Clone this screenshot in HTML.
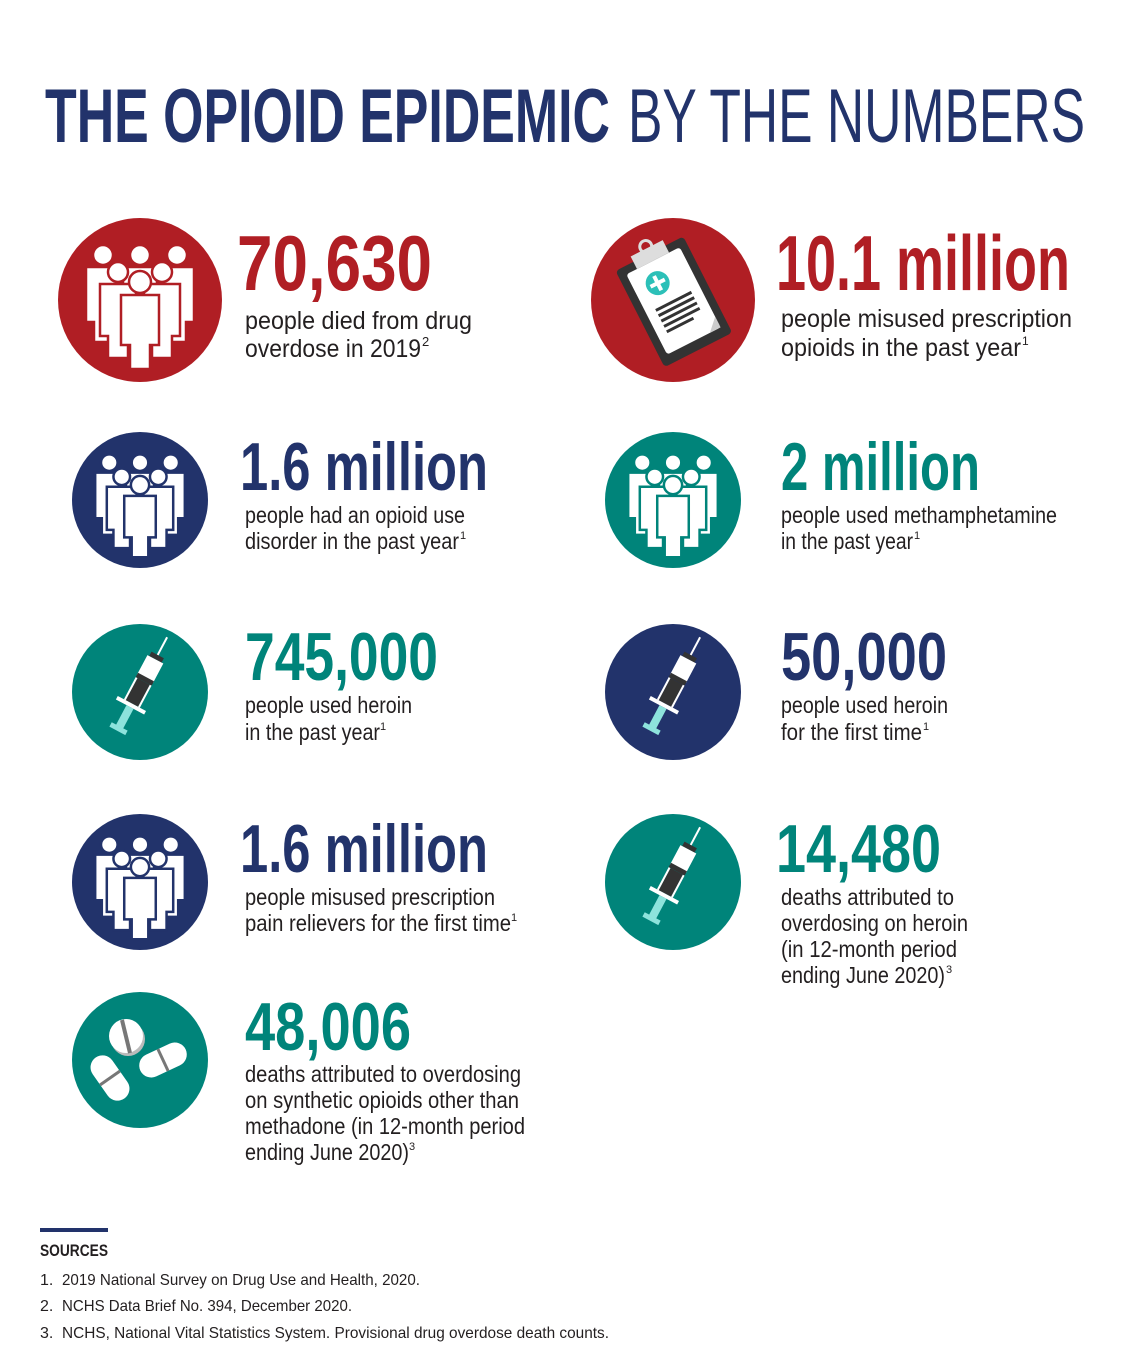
<!DOCTYPE html>
<html><head><meta charset="utf-8"><style>
html,body{margin:0;padding:0;background:#fff}
svg{display:block}
text{font-family:"Liberation Sans Narrow","Liberation Sans",sans-serif}
</style></head><body>
<svg width="1138" height="1364" viewBox="0 0 1138 1364" xmlns="http://www.w3.org/2000/svg">
<defs>
<g id="people">
  <g>
    <circle cx="-37" cy="-45" r="9" fill="#fff"/><rect x="-54" y="-33" width="34" height="52" rx="4" fill="#fff"/>
    <circle cx="37" cy="-45" r="9" fill="#fff"/><rect x="20" y="-33" width="34" height="52" rx="4" fill="#fff"/>
    <circle cx="0" cy="-45" r="9" fill="#fff"/><rect x="-17" y="-33" width="34" height="40" rx="4" fill="#fff"/>
  </g>
</g>
<g id="syringe">
  <line x1="0" y1="-62" x2="0" y2="-40" stroke="#fff" stroke-width="2"/>
  <rect x="-7" y="-42" width="14" height="5" fill="#333"/>
  <rect x="-9" y="-37" width="18" height="22" fill="#fff"/>
  <rect x="-9" y="-17" width="18" height="5" fill="#333"/>
  <rect x="-7" y="-12" width="14" height="25" fill="#333"/>
  <rect x="-9" y="-12" width="2" height="25" fill="#fff"/>
  <rect x="7" y="-12" width="2" height="25" fill="#fff"/>
  <rect x="-16" y="13" width="32" height="4" fill="#fff"/>
  <rect x="-4" y="17" width="8" height="24" fill="#8de3dc"/>
  <rect x="-9" y="39" width="18" height="5" fill="#8de3dc"/>
</g>
</defs>

<!-- title -->
<text x="45" y="142" font-size="76" font-weight="bold" fill="#22336b" textLength="565" lengthAdjust="spacingAndGlyphs">THE OPIOID EPIDEMIC</text>
<text x="628" y="142" font-size="76" fill="#22336b" textLength="457" lengthAdjust="spacingAndGlyphs">BY THE NUMBERS</text>

<!-- icon 1: red people -->
<g transform="translate(140,300)">
  <circle r="82" fill="#b01e24"/>
  <g fill="#fff" stroke="#b01e24" stroke-width="2.5">
    <circle cx="-37" cy="-45" r="10"/><path d="M-54,-33h34v55h-8v20h-18v-20h-8z"/>
    <circle cx="37" cy="-45" r="10"/><path d="M20,-33h34v55h-8v20h-18v-20h-8z"/>
    <circle cx="0" cy="-45" r="10"/><path d="M-17,-33h34v40h-34z"/>
    <circle cx="-22" cy="-28" r="10"/><path d="M-40,-16h36v52h-8v22h-20v-22h-8z"/>
    <circle cx="22" cy="-28" r="10"/><path d="M4,-16h36v52h-8v22h-20v-22h-8z"/>
    <circle cx="0" cy="-18" r="11"/><path d="M-19,-5h38v50h-9v24h-20v-24h-9z"/>
  </g>
</g>
<!-- icon 2: clipboard -->
<g transform="translate(673,300)">
  <circle r="82" fill="#b01e24"/>
  <g transform="rotate(-27)">
    <rect x="-38" y="-52" width="76" height="108" rx="4" fill="#333"/>
    <rect x="-30" y="-44" width="60" height="90" rx="3" fill="#fff"/>
    <path d="M18,46 L30,34 L30,46 Z" fill="#ccc"/>
    <rect x="-18" y="-58" width="36" height="14" fill="#ddd"/>
    <circle cx="0" cy="-60" r="6" fill="none" stroke="#ddd" stroke-width="3"/>
    <circle cx="-6" cy="-22" r="12" fill="#2cc0b8"/>
    <rect x="-14" y="-24" width="16" height="4" fill="#fff"/><rect x="-8" y="-30" width="4" height="16" fill="#fff"/>
    <g fill="#333"><rect x="-20" y="0" width="40" height="3"/><rect x="-20" y="6" width="40" height="3"/><rect x="-20" y="12" width="40" height="3"/><rect x="-20" y="18" width="40" height="3"/><rect x="-20" y="24" width="30" height="3"/></g>
  </g>
</g>

<!-- people icons smaller -->
<g transform="translate(140,500)">
  <circle r="68" fill="#22336b"/>
  <g transform="scale(0.83)" fill="#fff" stroke="#22336b" stroke-width="3">
    <circle cx="-37" cy="-45" r="10"/><path d="M-54,-33h34v55h-8v20h-18v-20h-8z"/>
    <circle cx="37" cy="-45" r="10"/><path d="M20,-33h34v55h-8v20h-18v-20h-8z"/>
    <circle cx="0" cy="-45" r="10"/><path d="M-17,-33h34v40h-34z"/>
    <circle cx="-22" cy="-28" r="10"/><path d="M-40,-16h36v52h-8v22h-20v-22h-8z"/>
    <circle cx="22" cy="-28" r="10"/><path d="M4,-16h36v52h-8v22h-20v-22h-8z"/>
    <circle cx="0" cy="-18" r="11"/><path d="M-19,-5h38v50h-9v24h-20v-24h-9z"/>
  </g>
</g>
<g transform="translate(673,500)">
  <circle r="68" fill="#00847a"/>
  <g transform="scale(0.83)" fill="#fff" stroke="#00847a" stroke-width="3">
    <circle cx="-37" cy="-45" r="10"/><path d="M-54,-33h34v55h-8v20h-18v-20h-8z"/>
    <circle cx="37" cy="-45" r="10"/><path d="M20,-33h34v55h-8v20h-18v-20h-8z"/>
    <circle cx="0" cy="-45" r="10"/><path d="M-17,-33h34v40h-34z"/>
    <circle cx="-22" cy="-28" r="10"/><path d="M-40,-16h36v52h-8v22h-20v-22h-8z"/>
    <circle cx="22" cy="-28" r="10"/><path d="M4,-16h36v52h-8v22h-20v-22h-8z"/>
    <circle cx="0" cy="-18" r="11"/><path d="M-19,-5h38v50h-9v24h-20v-24h-9z"/>
  </g>
</g>
<g transform="translate(140,882)">
  <circle r="68" fill="#22336b"/>
  <g transform="scale(0.83)" fill="#fff" stroke="#22336b" stroke-width="3">
    <circle cx="-37" cy="-45" r="10"/><path d="M-54,-33h34v55h-8v20h-18v-20h-8z"/>
    <circle cx="37" cy="-45" r="10"/><path d="M20,-33h34v55h-8v20h-18v-20h-8z"/>
    <circle cx="0" cy="-45" r="10"/><path d="M-17,-33h34v40h-34z"/>
    <circle cx="-22" cy="-28" r="10"/><path d="M-40,-16h36v52h-8v22h-20v-22h-8z"/>
    <circle cx="22" cy="-28" r="10"/><path d="M4,-16h36v52h-8v22h-20v-22h-8z"/>
    <circle cx="0" cy="-18" r="11"/><path d="M-19,-5h38v50h-9v24h-20v-24h-9z"/>
  </g>
</g>

<!-- syringes -->
<g transform="translate(140,692)">
  <circle r="68" fill="#00847a"/><g transform="translate(-2,0) rotate(28)"><use href="#syringe"/></g>
</g>
<g transform="translate(673,692)">
  <circle r="68" fill="#22336b"/><g transform="translate(-2,0) rotate(28)"><use href="#syringe"/></g>
</g>
<g transform="translate(673,882)">
  <circle r="68" fill="#00847a"/><g transform="translate(-2,0) rotate(28)"><use href="#syringe"/></g>
</g>

<!-- pills -->
<g transform="translate(140,1060)">
  <circle r="68" fill="#00847a"/>
  <circle cx="-12" cy="-21" r="17" fill="#bbb"/>
  <circle cx="-14" cy="-24" r="17" fill="#fff"/>
  <line x1="-18" y1="-40" x2="-10" y2="-7" stroke="#777" stroke-width="4"/>
  <g transform="translate(-30,18) rotate(-35)"><rect x="-12" y="-25" width="24" height="50" rx="12" fill="#fff"/><line x1="-12" y1="0" x2="12" y2="0" stroke="#777" stroke-width="3"/></g>
  <g transform="translate(23,0) rotate(-25)"><rect x="-25" y="-12" width="50" height="24" rx="12" fill="#fff"/><line x1="0" y1="-12" x2="0" y2="12" stroke="#777" stroke-width="3"/></g>
</g>

<!-- stats -->
<g>
<text x="237" y="290" font-size="78" font-weight="bold" fill="#b01e24" textLength="195" lengthAdjust="spacingAndGlyphs">70,630</text>
<text x="245" y="329" font-size="25" fill="#231f20" textLength="227" lengthAdjust="spacingAndGlyphs">people died from drug</text>
<text x="245" y="357" font-size="25" fill="#231f20" textLength="176" lengthAdjust="spacingAndGlyphs">overdose in 2019</text>
<text x="422" y="346" font-size="13" fill="#231f20">2</text>
</g>
<g>
<text x="776" y="290" font-size="78" font-weight="bold" fill="#b01e24" textLength="294" lengthAdjust="spacingAndGlyphs">10.1 million</text>
<text x="781" y="327" font-size="25" fill="#231f20" textLength="291" lengthAdjust="spacingAndGlyphs">people misused prescription</text>
<text x="781" y="356" font-size="25" fill="#231f20" textLength="240" lengthAdjust="spacingAndGlyphs">opioids in the past year</text>
<text x="1022" y="345" font-size="12" fill="#231f20">1</text>
</g>
<g>
<text x="240" y="490" font-size="68" font-weight="bold" fill="#22336b" textLength="248" lengthAdjust="spacingAndGlyphs">1.6 million</text>
<text x="245" y="523" font-size="23" fill="#231f20" textLength="220" lengthAdjust="spacingAndGlyphs">people had an opioid use</text>
<text x="245" y="549" font-size="23" fill="#231f20" textLength="214" lengthAdjust="spacingAndGlyphs">disorder in the past year</text>
<text x="460" y="539" font-size="11" fill="#231f20">1</text>
</g>
<g>
<text x="781" y="490" font-size="68" font-weight="bold" fill="#00847a" textLength="199" lengthAdjust="spacingAndGlyphs">2 million</text>
<text x="781" y="523" font-size="23" fill="#231f20" textLength="276" lengthAdjust="spacingAndGlyphs">people used methamphetamine</text>
<text x="781" y="549" font-size="23" fill="#231f20" textLength="132" lengthAdjust="spacingAndGlyphs">in the past year</text>
<text x="914" y="539" font-size="11" fill="#231f20">1</text>
</g>
<g>
<text x="245" y="680" font-size="68" font-weight="bold" fill="#00847a" textLength="193" lengthAdjust="spacingAndGlyphs">745,000</text>
<text x="245" y="713" font-size="23" fill="#231f20" textLength="167" lengthAdjust="spacingAndGlyphs">people used heroin</text>
<text x="245" y="740" font-size="23" fill="#231f20" textLength="135" lengthAdjust="spacingAndGlyphs">in the past year</text>
<text x="380" y="730" font-size="11" fill="#231f20">1</text>
</g>
<g>
<text x="781" y="680" font-size="68" font-weight="bold" fill="#22336b" textLength="166" lengthAdjust="spacingAndGlyphs">50,000</text>
<text x="781" y="713" font-size="23" fill="#231f20" textLength="167" lengthAdjust="spacingAndGlyphs">people used heroin</text>
<text x="781" y="740" font-size="23" fill="#231f20" textLength="141" lengthAdjust="spacingAndGlyphs">for the first time</text>
<text x="923" y="730" font-size="11" fill="#231f20">1</text>
</g>
<g>
<text x="240" y="872" font-size="68" font-weight="bold" fill="#22336b" textLength="248" lengthAdjust="spacingAndGlyphs">1.6 million</text>
<text x="245" y="905" font-size="23" fill="#231f20" textLength="250" lengthAdjust="spacingAndGlyphs">people misused prescription</text>
<text x="245" y="931" font-size="23" fill="#231f20" textLength="266" lengthAdjust="spacingAndGlyphs">pain relievers for the first time</text>
<text x="511" y="921" font-size="11" fill="#231f20">1</text>
</g>
<g>
<text x="776" y="872" font-size="68" font-weight="bold" fill="#00847a" textLength="165" lengthAdjust="spacingAndGlyphs">14,480</text>
<text x="781" y="905" font-size="23" fill="#231f20" textLength="173" lengthAdjust="spacingAndGlyphs">deaths attributed to</text>
<text x="781" y="931" font-size="23" fill="#231f20" textLength="187" lengthAdjust="spacingAndGlyphs">overdosing on heroin</text>
<text x="781" y="957" font-size="23" fill="#231f20" textLength="176" lengthAdjust="spacingAndGlyphs">(in 12-month period</text>
<text x="781" y="983" font-size="23" fill="#231f20" textLength="164" lengthAdjust="spacingAndGlyphs">ending June 2020)</text>
<text x="946" y="973" font-size="11" fill="#231f20">3</text>
</g>
<g>
<text x="245" y="1050" font-size="68" font-weight="bold" fill="#00847a" textLength="166" lengthAdjust="spacingAndGlyphs">48,006</text>
<text x="245" y="1082" font-size="23" fill="#231f20" textLength="276" lengthAdjust="spacingAndGlyphs">deaths attributed to overdosing</text>
<text x="245" y="1108" font-size="23" fill="#231f20" textLength="274" lengthAdjust="spacingAndGlyphs">on synthetic opioids other than</text>
<text x="245" y="1134" font-size="23" fill="#231f20" textLength="280" lengthAdjust="spacingAndGlyphs">methadone (in 12-month period</text>
<text x="245" y="1160" font-size="23" fill="#231f20" textLength="164" lengthAdjust="spacingAndGlyphs">ending June 2020)</text>
<text x="409" y="1150" font-size="11" fill="#231f20">3</text>
</g>

<!-- sources -->
<g>
<rect x="40" y="1228" width="68" height="4" fill="#22336b"/>
<text x="40" y="1256" font-size="17" font-weight="bold" fill="#231f20" textLength="68" lengthAdjust="spacingAndGlyphs">SOURCES</text>
<text x="40" y="1285" font-size="16" fill="#231f20">1.</text>
<text x="62" y="1285" font-size="16" fill="#231f20" textLength="358" lengthAdjust="spacingAndGlyphs">2019 National Survey on Drug Use and Health, 2020.</text>
<text x="40" y="1311" font-size="16" fill="#231f20">2.</text>
<text x="62" y="1311" font-size="16" fill="#231f20" textLength="290" lengthAdjust="spacingAndGlyphs">NCHS Data Brief No. 394, December 2020.</text>
<text x="40" y="1338" font-size="16" fill="#231f20">3.</text>
<text x="62" y="1338" font-size="16" fill="#231f20" textLength="547" lengthAdjust="spacingAndGlyphs">NCHS, National Vital Statistics System. Provisional drug overdose death counts.</text>
</g>
</svg>
</body></html>
